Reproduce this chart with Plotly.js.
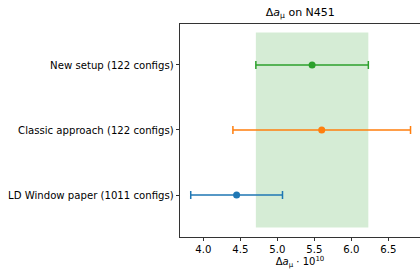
<!DOCTYPE html>
<html><head><meta charset="utf-8">
<script src="https://cdn.plot.ly/plotly-3.0.1.min.js"></script>
<style>body{margin:0;padding:0;}#c{width:420px;height:269px;}</style>
</head><body><div id="c"></div>
<script>
const labels = ["LD Window paper (1011 configs)", "Classic approach (122 configs)", "New setup (122 configs)"];
const positions = [0, 1, 2];
const centers = [4.45, 5.60, 5.47];
const errors = [0.62, 1.20, 0.76];
const colors = ["#1f77b4", "#ff7f0e", "#2ca02c"];
const bandX = [4.71, 6.23];
const bandY = [-0.5, 2.5];

const traces = [];
traces.push({
  x: [bandX[0], bandX[1], bandX[1], bandX[0], bandX[0]],
  y: [bandY[0], bandY[0], bandY[1], bandY[1], bandY[0]],
  mode: 'lines', fill: 'toself', fillcolor: 'rgba(44,160,44,0.2)',
  line: {width: 0}, hoverinfo: 'skip', showlegend: false
});
for (let i = 0; i < labels.length; i++) {
  traces.push({
    x: [centers[i]], y: [positions[i]], mode: 'markers', type: 'scatter',
    marker: {color: colors[i], size: 7},
    error_x: {type: 'data', array: [errors[i]], visible: true, color: colors[i], thickness: 1.5, width: 4},
    showlegend: false
  });
}
const layout = {
  width: 420, height: 269,
  margin: {l: 180, r: 0, t: 24, b: 32},
  paper_bgcolor: 'white', plot_bgcolor: 'white',
  font: {family: 'DejaVu Sans', size: 10.15, color: '#000'},
  title: {text: 'Δ<i>a</i><sub>μ</sub> on N451', x: 0.715, xanchor: 'center', y: 0.955, yanchor: 'middle', font: {size: 11, family: 'DejaVu Sans'}},
  xaxis: {
    range: [3.685, 6.928], tickvals: [4.0, 4.5, 5.0, 5.5, 6.0, 6.5], ticktext: ['4.0','4.5','5.0','5.5','6.0','6.5'],
    ticks: 'outside', ticklen: 3.5, tickwidth: 0.8, tickcolor: '#000',
    showline: true, linecolor: '#000', linewidth: 0.8, mirror: true, showgrid: false, zeroline: false,
    title: {text: 'Δ<i>a</i><sub>μ</sub> · 10<sup>10</sup>', standoff: 4, font: {size: 10}}
  },
  yaxis: {
    range: [-0.646, 2.63], tickvals: positions, ticktext: labels,
    ticks: 'outside', ticklen: 3.5, tickwidth: 0.8, tickcolor: '#000',
    showline: true, linecolor: '#000', linewidth: 0.8, mirror: true, showgrid: false, zeroline: false
  }
};
Plotly.newPlot('c', traces, layout, {displayModeBar: false, staticPlot: true});
</script></body></html>
